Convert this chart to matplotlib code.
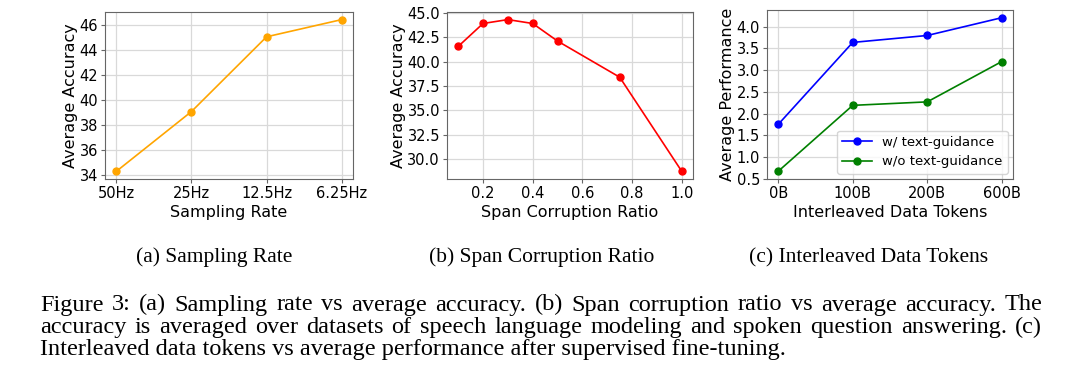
"""Recreate Figure 3: sampling rate, span corruption ratio, interleaved data tokens."""

import matplotlib
matplotlib.use('Agg')
import matplotlib.pyplot as plt

# (a) Sampling rate
rate_labels = ['50Hz', '25Hz', '12.5Hz', '6.25Hz']
rate_acc = [34.25, 39.05, 45.05, 46.43]

# (b) Span corruption ratio
span_ratio = [0.1, 0.2, 0.3, 0.4, 0.5, 0.75, 1.0]
span_acc = [41.55, 43.9, 44.3, 43.9, 42.1, 38.4, 28.75]

# (c) Interleaved data tokens
token_labels = ['0B', '100B', '200B', '600B']
perf_with = [1.75, 3.64, 3.80, 4.21]
perf_without = [0.67, 2.19, 2.27, 3.20]

subcaptions = ['(a) Sampling Rate', '(b) Span Corruption Ratio', '(c) Interleaved Data Tokens']
caption = [
    'Figure 3: (a) Sampling rate vs average accuracy. (b) Span corruption ratio vs average accuracy. The',
    'accuracy is averaged over datasets of speech language modeling and spoken question answering. (c)',
    'Interleaved data tokens vs average performance after supervised fine-tuning.',
]

W, H = 1080, 392
fig = plt.figure(figsize=(W / 100, H / 100), dpi=100)
TICK, LABEL = 10.5, 11.5


def px_axes(left, top, right, bottom):
    return fig.add_axes([left / W, 1 - bottom / H, (right - left) / W, (bottom - top) / H])


def style(ax):
    ax.grid(True, color='#d9d9d9', linewidth=0.9)
    ax.set_axisbelow(True)
    for s in ax.spines.values():
        s.set_color('#666666')
        s.set_linewidth(0.8)
    ax.tick_params(labelsize=TICK, length=3, color='#666666', pad=2)


# panel (a)
ax1 = px_axes(105, 12, 353, 179)
ax1.plot(range(len(rate_labels)), rate_acc, '-o', color='orange', markersize=5, linewidth=1.2)
ax1.set_xticks(range(len(rate_labels)))
ax1.set_xticklabels(rate_labels)
ax1.set_yticks([34, 36, 38, 40, 42, 44, 46])
ax1.set_xlabel('Sampling Rate', fontsize=LABEL, labelpad=3)
ax1.set_ylabel('Average Accuracy', fontsize=LABEL, labelpad=1)
style(ax1)

# panel (b)
ax2 = px_axes(447, 12, 693, 179)
ax2.plot(span_ratio, span_acc, '-o', color='red', markersize=5, linewidth=1.2)
ax2.set_xticks([0.2, 0.4, 0.6, 0.8, 1.0])
ax2.set_yticks([30.0, 32.5, 35.0, 37.5, 40.0, 42.5, 45.0])
ax2.set_xlabel('Span Corruption Ratio', fontsize=LABEL, labelpad=3)
ax2.set_ylabel('Average Accuracy', fontsize=LABEL, labelpad=1)
style(ax2)

# panel (c)
ax3 = px_axes(767, 10, 1013, 179)
x = range(len(token_labels))
ax3.plot(x, perf_with, '-o', color='blue', markersize=5, linewidth=1.2, label='w/ text-guidance')
ax3.plot(x, perf_without, '-o', color='green', markersize=5, linewidth=1.2, label='w/o text-guidance')
ax3.set_xticks(list(x))
ax3.set_xticklabels(token_labels)
ax3.set_yticks([0.5, 1.0, 1.5, 2.0, 2.5, 3.0, 3.5, 4.0])
ax3.set_xlabel('Interleaved Data Tokens', fontsize=LABEL, labelpad=3)
ax3.set_ylabel('Average Performance', fontsize=LABEL, labelpad=1)
ax3.legend(loc='lower right', fontsize=9.5, handlelength=2.2, borderaxespad=0.4)
style(ax3)

# sub-captions
serif = 'Liberation Serif'
for cx, txt in zip([214, 542, 869], subcaptions):
    fig.text(cx / W, 1 - 262 / H, txt, ha='center', va='baseline', fontsize=15.5, family=serif)

# figure caption, first two lines justified
renderer = fig.canvas.get_renderer()
x0, x1 = 40, 1042
for i, line in enumerate(caption):
    y = 1 - (310.5 + 22.3 * i) / H
    if i == len(caption) - 1:
        fig.text(x0 / W, y, line, ha='left', va='baseline', fontsize=17.5, family=serif)
        continue
    words = line.split(' ')
    texts = [fig.text(0, y, w, ha='left', va='baseline', fontsize=17.5, family=serif) for w in words]
    widths = [t.get_window_extent(renderer).width for t in texts]
    gap = (x1 - x0 - sum(widths)) / (len(words) - 1)
    pos = x0
    for t, w in zip(texts, widths):
        t.set_x(pos / W)
        pos += w + gap

fig.savefig('out.png', dpi=100)
